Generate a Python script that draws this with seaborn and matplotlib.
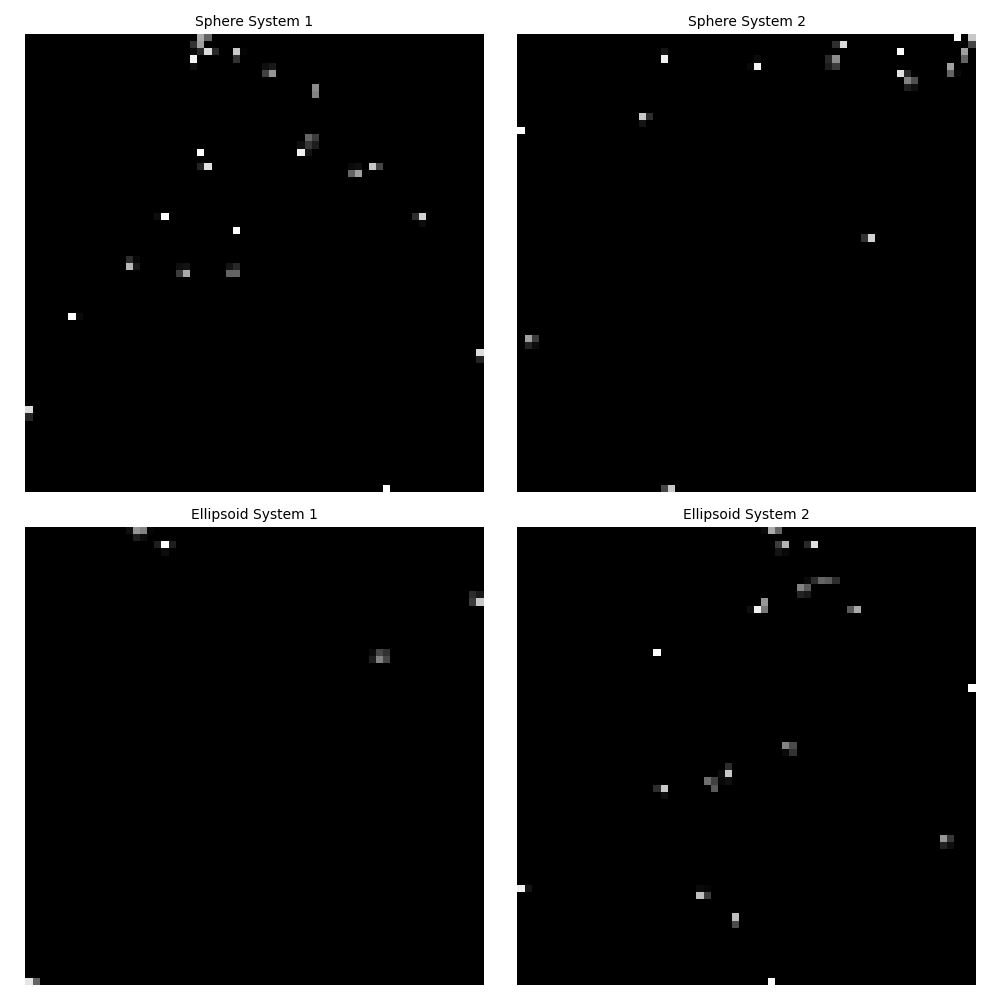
import numpy as np
import seaborn as sns
import matplotlib
matplotlib.use('Agg')
import matplotlib.pyplot as plt

N = 64

# bright cells: row, col, intensity (0-255), rest is 0
s1_rows = [0, 0, 1, 1, 2, 2, 2, 2, 2, 2, 3, 3, 4, 4, 4, 5, 5, 7, 8, 14, 14, 15, 15, 15, 16, 16, 16,
           18, 18, 18, 18, 18, 18, 19, 19, 25, 25, 25, 25, 26, 27, 31, 31, 32, 32, 32, 32, 33, 33,
           32, 32, 33, 33, 39, 39, 44, 45, 52, 53, 63]
s1_cols = [24, 25, 23, 24, 23, 24, 25, 26, 29, 30, 29, 23, 23, 33, 34, 33, 34, 40, 40, 39, 40, 38, 39, 40, 38, 39, 24,
           24, 25, 45, 46, 48, 49, 45, 46, 18, 19, 54, 55, 55, 29, 14, 15, 14, 15, 21, 22, 21, 22,
           28, 29, 28, 29, 6, 7, 63, 63, 0, 0, 50]
s1_vals = [170, 100, 50, 160, 10, 40, 220, 40, 200, 5, 50, 245, 15, 15, 25, 65, 150, 140, 130, 100, 60, 15, 55, 30, 240, 20, 255,
           35, 225, 10, 15, 200, 70, 100, 160, 12, 255, 45, 210, 12, 255, 45, 8, 185, 25, 15, 20, 60, 170,
           20, 40, 100, 100, 255, 10, 220, 35, 220, 40, 255]

s2_rows = [0, 0, 1, 1, 1, 2, 3, 2, 2, 3, 3, 3, 4, 4, 3, 4, 4, 4, 5, 5, 5, 5, 6, 6, 7, 7,
           11, 11, 12, 13, 28, 28, 42, 42, 43, 43, 63, 63]
s2_cols = [61, 63, 63, 44, 45, 20, 20, 53, 62, 62, 43, 44, 43, 44, 33, 32, 33, 60, 60, 61, 53, 54, 54, 55, 54, 55,
           17, 18, 17, 0, 48, 49, 1, 2, 1, 2, 20, 21]
s2_vals = [255, 200, 70, 45, 220, 20, 240, 255, 160, 100, 40, 140, 30, 60, 10, 8, 245, 160, 100, 8, 225, 40, 130, 80, 30, 15,
           200, 45, 20, 255, 50, 210, 160, 60, 35, 12, 70, 200]

e1_rows = [0, 0, 0, 0, 1, 1, 2, 2, 2, 3, 9, 9, 10, 10, 17, 17, 17, 18, 18, 18, 63, 63]
e1_cols = [14, 15, 16, 17, 15, 16, 18, 19, 20, 19, 62, 63, 62, 63, 48, 49, 50, 48, 49, 50, 0, 1]
e1_vals = [15, 150, 130, 5, 30, 12, 30, 255, 30, 12, 45, 25, 60, 200, 12, 70, 50, 30, 130, 70, 230, 100]

e2_rows = [0, 0, 0, 2, 2, 2, 2, 3, 3, 7, 7, 7, 7, 7, 8, 8, 9, 9, 10, 11, 11, 11, 11, 11, 17, 22,
           30, 30, 31, 31, 33, 34, 34, 35, 35, 35, 35, 36, 36, 36, 37, 43, 43, 44, 44,
           50, 50, 50, 50, 51, 51, 54, 55, 63]
e2_cols = [34, 35, 36, 36, 37, 40, 41, 36, 37, 40, 41, 42, 43, 44, 39, 40, 39, 40, 34, 32, 33, 34, 46, 47, 19, 63,
           37, 38, 37, 38, 29, 28, 29, 28, 29, 26, 27, 27, 19, 20, 20, 59, 60, 59, 60,
           0, 1, 25, 26, 25, 26, 30, 30, 35]
e2_vals = [10, 170, 100, 60, 180, 40, 225, 20, 8, 10, 45, 100, 90, 45, 130, 90, 35, 25, 150, 15, 240, 120, 90, 170, 255, 255,
           130, 75, 10, 50, 45, 12, 200, 8, 15, 110, 65, 90, 45, 200, 15, 150, 55, 35, 15,
           240, 20, 10, 5, 190, 60, 190, 75, 255]

titles = ['Sphere System 1', 'Sphere System 2', 'Ellipsoid System 1', 'Ellipsoid System 2']
panels = [(s1_rows, s1_cols, s1_vals), (s2_rows, s2_cols, s2_vals),
          (e1_rows, e1_cols, e1_vals), (e2_rows, e2_cols, e2_vals)]

fig, axes = plt.subplots(2, 2, figsize=(10, 10), dpi=100)
fig.subplots_adjust(left=0.025, right=0.976, top=0.966, bottom=0.015, wspace=0.072, hspace=0.076)

for ax, title, (r, c, v) in zip(axes.flat, titles, panels):
    img = np.zeros((N, N))
    img[r, c] = v
    sns.heatmap(img, ax=ax, cmap='gray', vmin=0, vmax=255, cbar=False,
                xticklabels=False, yticklabels=False, square=True)
    ax.set_title(title, fontsize=10)
    ax.tick_params(left=False, bottom=False)

fig.savefig('out.png', dpi=100)
